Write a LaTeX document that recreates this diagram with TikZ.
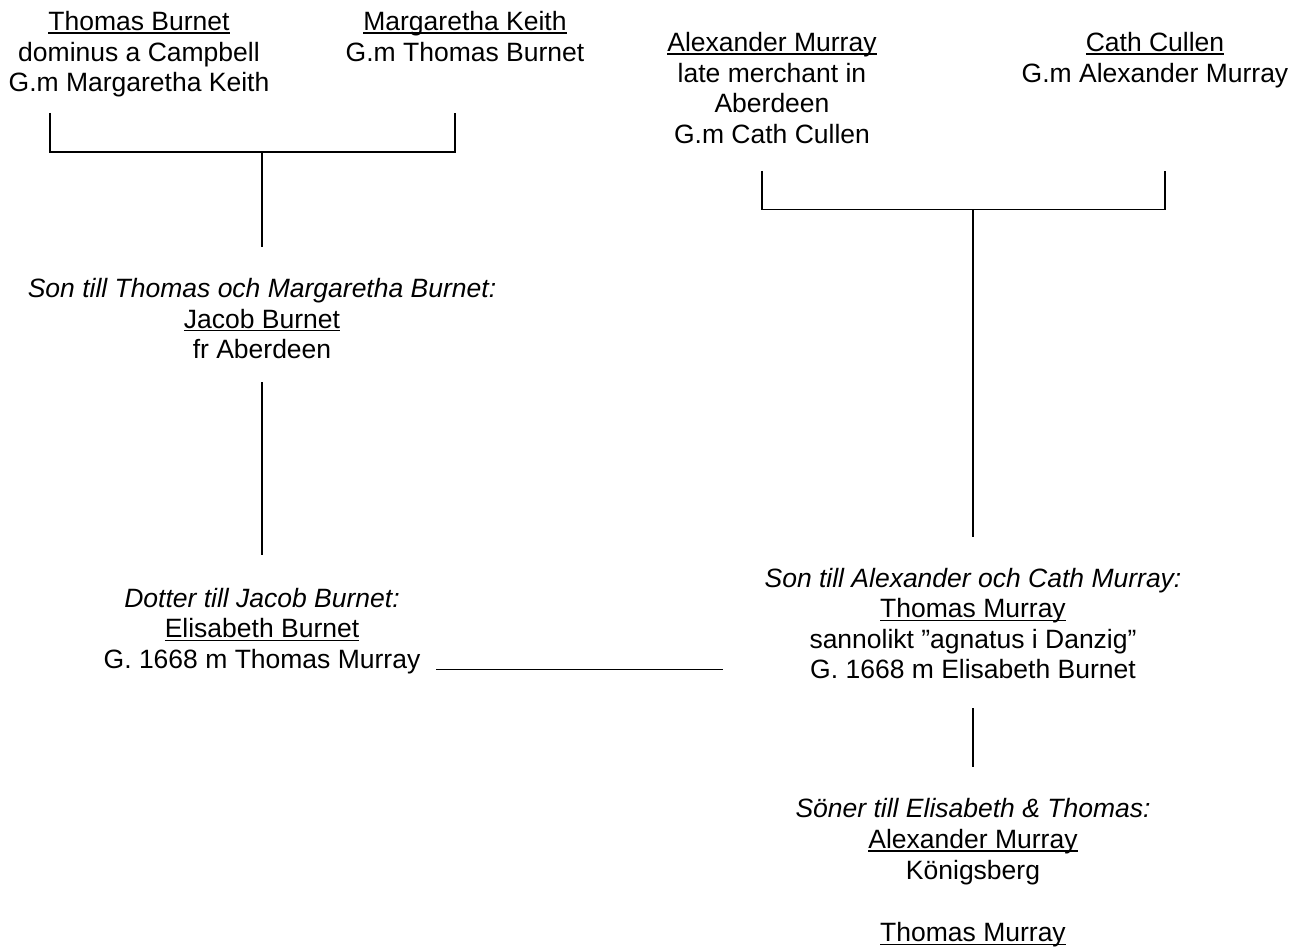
\documentclass[tikz,border=0pt]{standalone}
\usepackage{fontspec}
\setmainfont{Liberation Sans}
\newcommand\myul[1]{\setbox0\hbox{#1}\rlap{\rule[-3.3pt]{\wd0}{1.4pt}}\box0}
\newcommand\tstr{\rule{0pt}{25pt}}
\tikzset{
  person/.style={anchor=north, align=center, inner sep=0pt, outer sep=0pt,
    font=\fontsize{26.5}{30.6}\selectfont},
  link/.style={draw=black, line width=1.4pt}
}
\begin{document}
\begin{tikzpicture}[x=1pt,y=-1pt]
\useasboundingbox[fill=white] (0,0) rectangle (1302,947);
% people
\node[person] (tb) at (139,5.5) {\tstr\myul{Thomas Burnet}\\dominus a Campbell\\G.m Margaretha Keith};
\node[person] (mk) at (465,5.5) {\tstr\myul{Margaretha Keith}\\G.m Thomas Burnet};
\node[person] (am) at (772,26.5) {\tstr\myul{Alexander Murray}\\late merchant in\\Aberdeen\\G.m Cath Cullen};
\node[person] (cc) at (1155,26.5) {\tstr\myul{Cath Cullen}\\G.m Alexander Murray};
\node[person] (jb) at (262,272.5) {\tstr\textit{Son till Thomas och Margaretha Burnet:}\\\myul{Jacob Burnet}\\fr Aberdeen};
\node[person] (eb) at (262,582) {\tstr\textit{Dotter till Jacob Burnet:}\\\myul{Elisabeth Burnet}\\G. 1668 m Thomas Murray};
\node[person] (tm) at (973,562) {\tstr\textit{Son till Alexander och Cath Murray:}\\\myul{Thomas Murray}\\sannolikt ”agnatus i Danzig”\\G. 1668 m Elisabeth Burnet};
\node[person, font=\fontsize{26.5}{31.2}\selectfont] (sons) at (973,792) {\tstr\textit{Söner till Elisabeth \& Thomas:}\\\myul{Alexander Murray}\\Königsberg\\\strut\\\myul{Thomas Murray}};
% connector points
\coordinate (tbL) at (50,113);
\coordinate (mkR) at (455,113);
\coordinate (jA) at (262,152);
\coordinate (jAd) at (262,247);
\coordinate (jbB) at (262,382);
\coordinate (ebT) at (262,555);
\coordinate (ebM) at (436,669.5);
\coordinate (tmM) at (723,669.5);
\coordinate (amL) at (762,171);
\coordinate (ccR) at (1165,171);
\coordinate (jB) at (973,209.5);
\coordinate (jBd) at (973,537);
\coordinate (tmB) at (973,708);
\coordinate (sonsT) at (973,767);
% connectors
\draw[link] (tbL) |- (jA) -| (mkR);
\draw[link] (jA) -- (jAd);
\draw[link] (jbB) -- (ebT);
\draw[link] (ebM) -- (tmM);
\draw[link] (amL) |- (jB) -| (ccR);
\draw[link] (jB) -- (jBd);
\draw[link] (tmB) -- (sonsT);
\end{tikzpicture}
\end{document}
